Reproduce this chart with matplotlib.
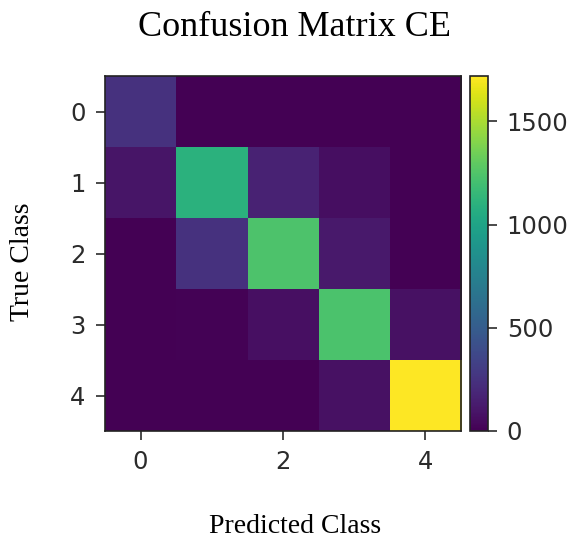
import matplotlib
matplotlib.use("Agg")
import matplotlib.pyplot as plt
import numpy as np

classes = [0, 1, 2, 3, 4]
row0 = [245, 3, 2, 2, 1]
row1 = [100, 1100, 165, 65, 4]
row2 = [5, 245, 1240, 115, 6]
row3 = [3, 10, 70, 1230, 75]
row4 = [2, 3, 6, 80, 1720]
x_ticks = [0, 2, 4]
cbar_ticks = [0, 500, 1000, 1500]

cm = np.array([row0, row1, row2, row3, row4])

W, H = 571, 540
fig = plt.figure(figsize=(W / 100, H / 100), dpi=100)

# положение матрицы и шкалы в пикселях
ax = fig.add_axes([105 / W, (H - 431) / H, 356 / W, 355 / H])
cax = fig.add_axes([470 / W, (H - 431) / H, 18 / W, 355 / H])

im = ax.imshow(cm, cmap="viridis", vmin=0, vmax=1720, aspect="auto")
cb = fig.colorbar(im, cax=cax, ticks=cbar_ticks)

tick_color = "#2b2b2b"
ax.set_xticks(x_ticks)
ax.set_yticks(classes)
ax.tick_params(axis="both", labelsize=17.5, length=6.5, width=1.2, pad=7.5,
               colors=tick_color, labelcolor=tick_color)
cb.ax.tick_params(labelsize=17.5, length=6.5, width=1.2, pad=7,
                  colors=tick_color, labelcolor=tick_color)
for sp in list(ax.spines.values()) + list(cb.ax.spines.values()):
    sp.set_linewidth(1.2)
    sp.set_color("#222222")
cb.outline.set_linewidth(1.2)

serif = ["Liberation Serif", "DejaVu Serif"]
fig.text(294 / W, (H - 36) / H, "Confusion Matrix CE", family=serif,
         fontsize=26, ha="center", va="baseline")
fig.text(295 / W, (H - 533) / H, "Predicted Class", family=serif,
         fontsize=20, ha="center", va="baseline")
fig.text(23 / W, (H - 262) / H, "True Class", family=serif,
         fontsize=20, ha="center", va="center", rotation=90)

plt.savefig("out.png", dpi=100)
